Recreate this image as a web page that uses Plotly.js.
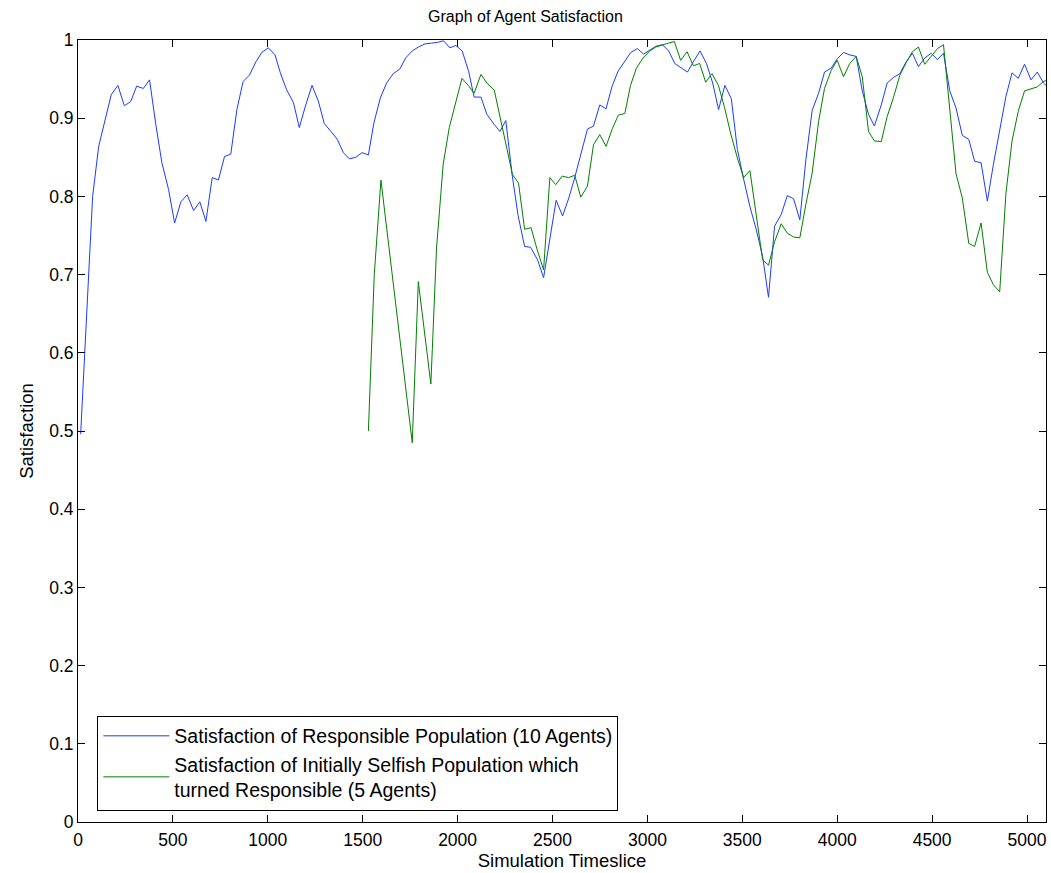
<!DOCTYPE html>
<html>
<head>
<meta charset="utf-8">
<script src="https://cdn.plot.ly/plotly-3.0.1.min.js"></script>
<style>html,body{margin:0;padding:0;background:#fff;}#chart{width:1051px;height:873px;}</style>
</head>
<body>
<div id="chart"></div>
<script>
const responsibleX = [14,47,77,109,144,175,210,244,277,309,344,377,410,442,477,509,542,575,609,642,674,707,740,772,805,837,870,903,937,968,1003,1038,1066,1098,1135,1166,1200,1233,1266,1298,1333,1366,1398,1430,1463,1497,1530,1559,1593,1626,1661,1696,1726,1761,1793,1828,1863,1895,1926,1959,1991,2024,2058,2087,2123,2154,2193,2223,2254,2287,2319,2353,2384,2421,2453,2486,2519,2553,2586,2617,2651,2684,2716,2749,2782,2814,2845,2881,2912,2947,2980,3012,3045,3079,3112,3144,3179,3211,3244,3277,3311,3344,3375,3408,3442,3474,3507,3540,3574,3607,3638,3670,3705,3737,3770,3803,3835,3868,3902,3933,3968,4000,4033,4066,4100,4132,4165,4196,4232,4263,4296,4330,4363,4396,4428,4461,4495,4528,4560,4593,4626,4659,4693,4724,4758,4791,4823,4856,4889,4921,4954,4987,5021,5054,5087,5100];
const responsibleY = [0.496,0.664,0.800,0.864,0.900,0.930,0.942,0.916,0.921,0.941,0.938,0.949,0.892,0.843,0.809,0.766,0.793,0.802,0.782,0.793,0.768,0.824,0.821,0.851,0.854,0.911,0.947,0.955,0.972,0.984,0.990,0.981,0.958,0.937,0.920,0.888,0.917,0.942,0.922,0.893,0.883,0.873,0.856,0.848,0.850,0.856,0.853,0.894,0.926,0.945,0.957,0.963,0.977,0.986,0.991,0.995,0.996,0.997,0.999,0.990,0.993,0.986,0.960,0.927,0.927,0.905,0.892,0.883,0.897,0.828,0.775,0.736,0.735,0.719,0.696,0.747,0.795,0.775,0.798,0.824,0.856,0.886,0.890,0.917,0.912,0.941,0.960,0.973,0.984,0.989,0.982,0.987,0.992,0.994,0.986,0.970,0.964,0.959,0.973,0.986,0.970,0.945,0.911,0.942,0.925,0.860,0.822,0.787,0.757,0.723,0.671,0.762,0.777,0.801,0.797,0.770,0.847,0.910,0.932,0.959,0.964,0.976,0.984,0.981,0.979,0.935,0.905,0.890,0.917,0.945,0.952,0.957,0.972,0.983,0.966,0.977,0.983,0.975,0.983,0.935,0.913,0.878,0.873,0.845,0.843,0.794,0.841,0.885,0.928,0.958,0.951,0.969,0.949,0.959,0.945,0.942];

const selfishX = [1530,1561,1596,1761,1793,1828,1859,1889,1924,1956,1989,2023,2056,2087,2123,2154,2193,2226,2258,2289,2321,2353,2387,2419,2453,2486,2517,2551,2584,2617,2649,2684,2716,2749,2782,2816,2847,2881,2911,2942,2977,3012,3044,3079,3110,3142,3175,3209,3242,3275,3307,3340,3374,3405,3438,3474,3507,3540,3574,3607,3638,3670,3705,3737,3770,3803,3835,3868,3902,3933,3968,4000,4033,4066,4100,4132,4165,4196,4232,4263,4296,4330,4363,4396,4428,4461,4495,4528,4560,4626,4659,4693,4724,4758,4791,4823,4856,4889,4921,4954,4987,5021,5054,5087,5100];
const selfishY = [0.500,0.700,0.821,0.485,0.691,0.623,0.560,0.734,0.841,0.888,0.920,0.951,0.942,0.932,0.956,0.945,0.936,0.900,0.866,0.828,0.817,0.758,0.760,0.732,0.706,0.824,0.815,0.826,0.824,0.827,0.799,0.813,0.866,0.879,0.864,0.887,0.904,0.906,0.942,0.964,0.977,0.986,0.991,0.994,0.996,0.998,0.974,0.985,0.967,0.970,0.946,0.957,0.942,0.915,0.881,0.849,0.824,0.833,0.775,0.719,0.712,0.742,0.765,0.753,0.748,0.747,0.790,0.830,0.896,0.938,0.961,0.974,0.953,0.970,0.979,0.953,0.883,0.871,0.870,0.902,0.926,0.955,0.971,0.985,0.991,0.969,0.979,0.989,0.994,0.829,0.798,0.740,0.736,0.766,0.703,0.687,0.678,0.804,0.871,0.909,0.935,0.938,0.940,0.947,0.948];

const seriesNames = ['Satisfaction of Responsible Population (10 Agents)', 'Satisfaction of Initially Selfish Population which<br>turned Responsible (5 Agents)'];
const xTicks = [0,500,1000,1500,2000,2500,3000,3500,4000,4500,5000];
const yTicks = [0,0.1,0.2,0.3,0.4,0.5,0.6,0.7,0.8,0.9,1];
const yTickLabels = ['0','0.1','0.2','0.3','0.4','0.5','0.6','0.7','0.8','0.9','1'];

const font = 'Liberation Sans, Arial, Helvetica, sans-serif';
const traces = [
  {x: responsibleX, y: responsibleY, type: 'scatter', mode: 'lines', name: seriesNames[0], line: {color: '#1a3cff', width: 1}},
  {x: selfishX, y: selfishY, type: 'scatter', mode: 'lines', name: seriesNames[1], line: {color: '#008000', width: 1}}
];
const axisBase = {showline: true, linecolor: '#000', linewidth: 1, mirror: 'ticks', ticks: 'inside', ticklen: 7, tickcolor: '#000', showgrid: false, zeroline: false, tickfont: {family: font, size: 17.5, color: '#000'}};
const layout = {
  width: 1051, height: 873,
  margin: {l: 78, r: 5, t: 40, b: 51},
  paper_bgcolor: '#fff', plot_bgcolor: '#fff',
  font: {family: font, color: '#000'},
  title: {text: 'Graph of Agent Satisfaction', font: {family: font, size: 16, color: '#000'}, x: 0.5, xanchor: 'center', y: 0.981, yanchor: 'middle'},
  xaxis: Object.assign({}, axisBase, {range: [0, 5100], tickvals: xTicks, ticklabelstandoff: 2, title: {text: 'Simulation Timeslice', font: {family: font, size: 18.5}, standoff: 0}}),
  yaxis: Object.assign({}, axisBase, {range: [0, 1], tickvals: yTicks, ticktext: yTickLabels, title: {text: 'Satisfaction', font: {family: font, size: 18.5}, standoff: 10}}),
  showlegend: true,
  legend: {x: 0.02, y: 0.136, xanchor: 'left', yanchor: 'top', bgcolor: '#fff', bordercolor: '#000', borderwidth: 1, font: {family: font, size: 19.5, color: '#000'}, tracegroupgap: 0, itemwidth: 66}
};
Plotly.newPlot('chart', traces, layout, {displayModeBar: false, staticPlot: true});
</script>
</body>
</html>
